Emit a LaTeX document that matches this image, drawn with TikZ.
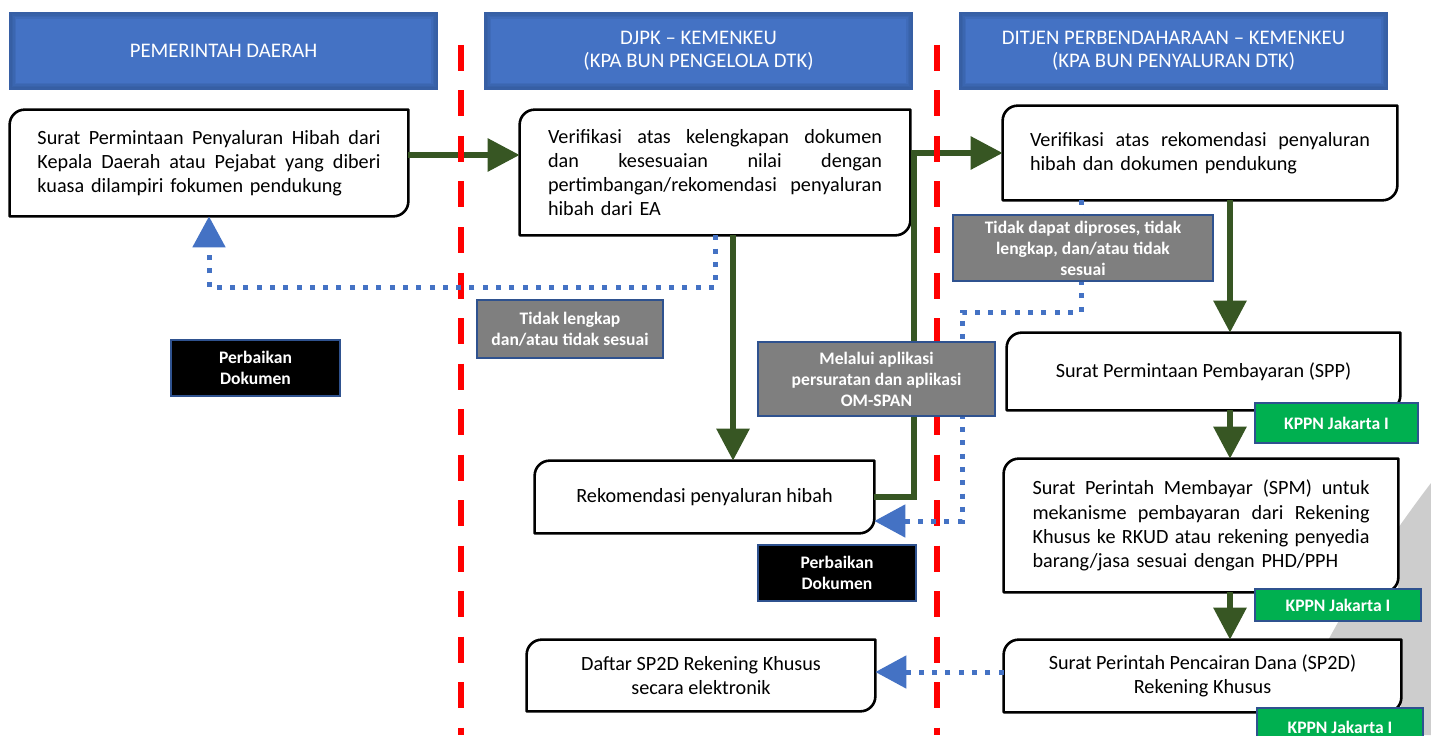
\documentclass[tikz,border=0pt]{standalone}
\usepackage{fontspec}
\setmainfont{Carlito}
\usepackage{tikz}
\usetikzlibrary{arrows.meta,calc,positioning}
\definecolor{hdrblue}{HTML}{4472C4}
\definecolor{hdredge}{HTML}{2F528F}
\definecolor{flowgreen}{HTML}{375623}
\definecolor{cutred}{HTML}{FF0000}
\definecolor{notegray}{HTML}{7F7F7F}
\definecolor{kppngreen}{HTML}{00B050}
\definecolor{bgarc}{HTML}{CDCDCD}
\newdimen\pxu \pxu=0.02cm
\newcommand\jl[2]{\makebox[#1\pxu][s]{\spaceskip=0pt\xspaceskip=0pt\relax #2}}
\tikzset{
  hdr/.style={fill=hdrblue, draw=hdredge!60!hdrblue, line width=2\pxu, text=white, align=center,
    minimum width=427\pxu, minimum height=76\pxu, inner sep=0pt, font=\fontsize{11.8}{13.2}\selectfont,
    path picture={\foreach \w in {3,6,9,12}
      \draw[hdredge, opacity=0.2, line width=\w\pxu] (path picture bounding box.south west) rectangle (path picture bounding box.north east);}},
  stepbox/.style={fill=white, inner sep=0pt, align=left, font=\fontsize{11.5}{13.8}\selectfont},
  frame/.style={draw=black, line width=2.6\pxu, line join=round},
  flow/.style={draw=flowgreen, line width=6\pxu, -{Triangle[length=0.64cm,width=0.64cm]}},
  back/.style={draw=hdrblue, line width=5\pxu, dash pattern=on 5\pxu off 8.3\pxu, -{Triangle[length=0.62cm,width=0.64cm]}},
  lane/.style={draw=cutred, line width=6\pxu, dash pattern=on 26\pxu off 19.5\pxu},
  note/.style={fill=notegray, draw=hdredge, line width=2.5\pxu, text=white, align=center, inner sep=0pt,
    font=\fontsize{10}{12}\selectfont\bfseries},
  fix/.style={note, fill=black},
  kppn/.style={note, fill=kppngreen},
}
\begin{document}
\begin{tikzpicture}[x=\pxu, y=\pxu]
\useasboundingbox (0,0) rectangle (1431,735);
% grey arc behind the right column
\fill[bgarc] (1431,252) .. controls (1380,185) and (1310,80) .. (1288,0) -- (1431,0) -- cycle;

% lane heads
\node[hdr] (pemda) at (223.5,684) {PEMERINTAH DAERAH};
\node[hdr] (djpk) at (698.5,684) {DJPK – KEMENKEU\\(KPA BUN PENGELOLA DTK)};
\node[hdr] (djpb) at (1173.5,684) {DITJEN PERBENDAHARAAN – KEMENKEU\\(KPA BUN PENYALURAN DTK)};

% steps
\node[stepbox, text width=343\pxu, minimum width=398\pxu, minimum height=106\pxu] (ask) at (209,572)
  {\jl{343}{Surat Permintaan Penyaluran Hibah dari}\\\jl{343}{Kepala Daerah atau Pejabat yang diberi}\\kuasa dilampiri fokumen pendukung};
\node[stepbox, text width=334\pxu, minimum width=390\pxu, minimum height=125\pxu] (check) at (715,562.5)
  {\jl{334}{Verifikasi atas kelengkapan dokumen}\\\jl{334}{dan kesesuaian nilai dengan}\\\jl{334}{pertimbangan/rekomendasi penyaluran}\\hibah dari EA};
\node[stepbox, text width=340\pxu, minimum width=394\pxu, minimum height=94\pxu] (verify) at (1200,582)
  {\jl{340}{Verifikasi atas rekomendasi penyaluran}\\hibah dan dokumen pendukung};
\node[stepbox, align=center, minimum width=339\pxu, minimum height=72\pxu] (reco) at (704.5,238)
  {Rekomendasi penyaluran hibah};
\node[stepbox, align=center, minimum width=393\pxu, minimum height=77\pxu] (spp) at (1203.5,363.5)
  {Surat Permintaan Pembayaran (SPP)};
\node[stepbox, text width=337\pxu, minimum width=394\pxu, minimum height=133\pxu] (spm) at (1201,209.5)
  {\jl{337}{Surat Perintah Membayar (SPM) untuk}\\\jl{337}{mekanisme pembayaran dari Rekening}\\\jl{337}{Khusus ke RKUD atau rekening penyedia}\\barang/jasa sesuai dengan PHD/PPH};
\node[stepbox, align=center, minimum width=397\pxu, minimum height=72\pxu] (sptd) at (1202.5,59)
  {Surat Perintah Pencairan Dana (SP2D)\\Rekening Khusus};
\node[stepbox, align=center, minimum width=348\pxu, minimum height=71\pxu] (list) at (701,59.5)
  {Daftar SP2D Rekening Khusus\\secara elektronik};

\foreach \b in {ask,check,verify,reco,spp,spm,sptd,list}
  \draw[frame] (\b.south west) -- ([yshift=-15\pxu]\b.north west)
    arc[start angle=180, end angle=90, radius=15\pxu] -- (\b.north east)
    -- ([yshift=15\pxu]\b.south east)
    arc[start angle=0, end angle=-90, radius=15\pxu] -- cycle;

% main flow
\coordinate (turn) at (914,582);
\coordinate (spine) at (1230,0);
\draw[flow] ([yshift=8\pxu]ask.east) -- ([yshift=8\pxu]ask.east -| check.west);
\draw[flow] ([xshift=18\pxu]check.south) -- ([xshift=18\pxu]check.south |- reco.north);
\draw[flow] (reco.east) -| (turn) -- (verify.west);
\draw[flow] (verify.south -| spine) -- (spp.north -| spine);
\draw[flow] (spp.south -| spine) -- (spm.north -| spine);
\draw[flow] (spm.south -| spine) -- (sptd.north -| spine);

% lanes
\foreach \x in {461,937}
  \draw[lane] (\x,690) -- (\x,0);

% returns
\coordinate (d2a) at (1081,423);
\coordinate (d2b) at (962,214);
\draw[back] (check.south) -- ++(0,-52) -| (ask.south);
\draw[back] (verify.south -| d2a) -- (d2a) -| (d2b) -- (d2b -| reco.east);
\draw[back] ([yshift=4\pxu]sptd.west) -- ([yshift=4\pxu]sptd.west -| list.east);

% labels
\node[note, minimum width=186\pxu, minimum height=58\pxu] (lack) at (570,406) {Tidak lengkap\\dan/atau tidak sesuai};
\node[note, minimum width=237\pxu, minimum height=74\pxu] (via) at (876.5,356) {Melalui aplikasi\\persuratan dan aplikasi\\OM-SPAN};
\node[note, minimum width=260\pxu, minimum height=66\pxu] (reject) at (1083,487) {Tidak dapat diproses, tidak\\lengkap, dan/atau tidak\\sesuai};
\node[fix, minimum width=169\pxu, minimum height=56\pxu] (fix1) at (255.5,367) {Perbaikan\\Dokumen};
\node[fix, minimum width=158\pxu, minimum height=56\pxu] (fix2) at (837,162) {Perbaikan\\Dokumen};
\node[kppn, minimum width=163\pxu, minimum height=40\pxu] (kppn1) at (1336.5,312) {KPPN Jakarta I};
\node[kppn, minimum width=166\pxu, minimum height=32\pxu] (kppn2) at (1338,130) {KPPN Jakarta I};
\node[kppn, minimum width=166\pxu, minimum height=38\pxu] (kppn3) at (1340,8) {KPPN Jakarta I};
\end{tikzpicture}
\end{document}
